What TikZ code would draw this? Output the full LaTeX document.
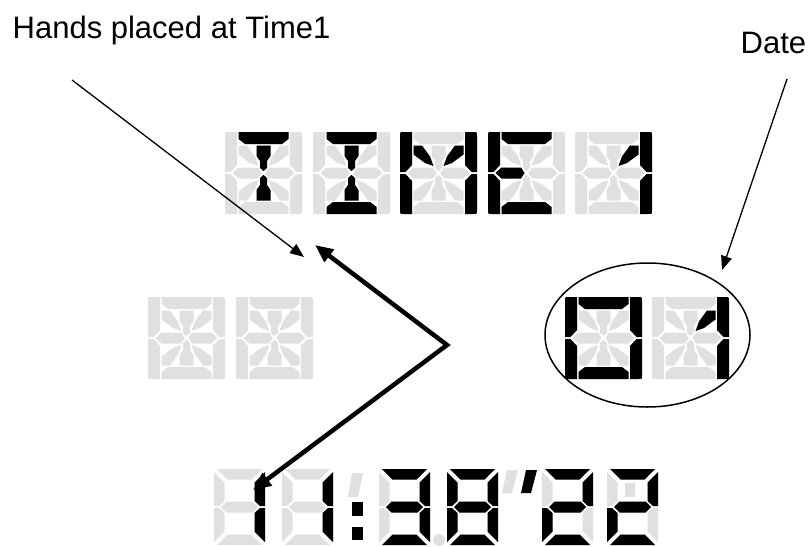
\documentclass[tikz,border=0pt]{standalone}
\usepackage{fontspec}
\setmainfont{Liberation Sans}
\usetikzlibrary{arrows.meta,shapes.geometric}
\definecolor{segoffc}{HTML}{E0E0E0}
% 14-segment digit (77 x 82)
\newcommand\sgA{(13.5,0)--(63.5,0)--(63.5,7)--(57,12)--(20,12)--(13.5,7)--cycle}
\newcommand\sgD{(13.5,82)--(63.5,82)--(63.5,75)--(57,70)--(20,70)--(13.5,75)--cycle}
\newcommand\sgF{(0,40)--(0,4) .. controls (0,0) .. (4,0)--(12,0)--(12,33)--(5.5,40)--cycle}
\newcommand\sgE{(0,42)--(5.5,42)--(12,49)--(12,82)--(4,82) .. controls (0,82) .. (0,78)--cycle}
\newcommand\sgB{(77,40)--(77,4) .. controls (77,0) .. (73,0)--(65,0)--(65,33)--(71.5,40)--cycle}
\newcommand\sgC{(77,42)--(71.5,42)--(65,49)--(65,82)--(73,82) .. controls (77,82) .. (77,78)--cycle}
\newcommand\sgGa{(7.5,41)--(13.5,35.5)--(33,35.5)--(36.5,41)--(33,46.5)--(13.5,46.5)--cycle}
\newcommand\sgGb{(69.5,41)--(63.5,35.5)--(44,35.5)--(40.5,41)--(44,46.5)--(63.5,46.5)--cycle}
\newcommand\sgH{(13.5,13.5)--(22,13.5)--(30,24.5)--(33.5,34)--(25,31)--(13.5,22.5)--cycle}
\newcommand\sgJ{(63.5,13.5)--(55,13.5)--(47,24.5)--(43.5,34)--(52,31)--(63.5,22.5)--cycle}
\newcommand\sgK{(13.5,68.5)--(22,68.5)--(30,57.5)--(33.5,48)--(25,51)--(13.5,59.5)--cycle}
\newcommand\sgM{(63.5,68.5)--(55,68.5)--(47,57.5)--(43.5,48)--(52,51)--(63.5,59.5)--cycle}
\newcommand\sgI{(31.5,13.5)--(45.5,13.5)--(45.5,24)--(42,29)--(42,36)--(38.5,39)--(35,36)--(35,29)--(31.5,24)--cycle}
\newcommand\sgL{(31.5,68.5)--(45.5,68.5)--(45.5,58)--(42,53)--(42,46)--(38.5,43)--(35,46)--(35,53)--(31.5,58)--cycle}
\newcommand\fourteen[2]{%
  \begin{scope}[shift={#1}]
    \fill[segoff] \sgA \sgB \sgC \sgD \sgE \sgF \sgGa \sgGb \sgH \sgI \sgJ \sgK \sgL \sgM;
    \fill[segon] #2;
  \end{scope}}
% 7-segment digit (51 x 76)
\newcommand\ssA{(3,0)--(48,0)--(37.5,10.5)--(13.5,10.5)--cycle}
\newcommand\ssF{(0,3)--(10.5,13.5)--(10.5,32)--(5,37)--(0,37)--cycle}
\newcommand\ssB{(51,3)--(40.5,13.5)--(40.5,32)--(46,37)--(51,37)--cycle}
\newcommand\ssE{(0,39)--(5,39)--(10.5,44)--(10.5,62.5)--(0,73)--cycle}
\newcommand\ssC{(51,39)--(46,39)--(40.5,44)--(40.5,62.5)--(51,73)--cycle}
\newcommand\ssD{(3,76)--(48,76)--(37.5,65.5)--(13.5,65.5)--cycle}
\newcommand\ssG{(7,38)--(12.5,32.5)--(38.5,32.5)--(44,38)--(38.5,43.5)--(12.5,43.5)--cycle}
\newcommand\seven[2]{%
  \begin{scope}[shift={#1}]
    \fill[segoff] \ssA \ssB \ssC \ssD \ssE \ssF \ssG;
    \fill[segon] #2;
  \end{scope}}
\begin{document}
\begin{tikzpicture}[x=1pt,y=-1pt,
  segoff/.style={fill=segoffc},
  segon/.style={fill=black},
  label text/.style={font=\fontsize{31}{36}\selectfont, inner sep=0pt, anchor=base west},
  thin arrow/.style={line width=1.3pt, -{Triangle[length=14pt,width=11pt]}},
  thick arrows/.style={line width=4.5pt, {Triangle[length=18pt,width=15pt]}-{Triangle[length=18pt,width=15pt]}}]
\useasboundingbox (0,0) rectangle (810,546);
% texts
\node[label text] (hands) at (12.5,38) {Hands placed at Time1};
\node[label text] (date) at (740.5,53) {Date};
% top row: TIME1
\fourteen{(225,132)}{\sgA \sgI \sgL}
\fourteen{(313,132)}{\sgA \sgI \sgL \sgD}
\fourteen{(400,132)}{\sgF \sgE \sgB \sgC \sgH \sgJ}
\fourteen{(488,132)}{\sgA \sgF \sgE \sgGa \sgD}
\fourteen{(575,132)}{\sgJ \sgB \sgC}
% middle row
\fourteen{(148,297)}{}
\fourteen{(236,297)}{}
\fourteen{(565,297)}{\sgA \sgB \sgC \sgD \sgE \sgF}
\fourteen{(652,297)}{\sgJ \sgB \sgC}
% date ring
\node[ellipse, draw, line width=1.5pt, minimum width=205pt, minimum height=144pt, inner sep=0pt] (ring) at (647.5,335) {};
% bottom row: 11:38''22
\seven{(214,469)}{\ssB \ssC}
\seven{(282,469)}{\ssB \ssC}
\fill[segoff] (352,473)--(363,473)--(358,497)--(348,497)--cycle;
\fill[segon] (352,502) rectangle (363,516);
\fill[segon] (352,527) rectangle (363,540);
\seven{(379,469)}{\ssA \ssB \ssG \ssC \ssD}
\fill[segoff] (439,540) circle[radius=6];
\seven{(447,469)}{\ssA \ssB \ssC \ssD \ssE \ssF \ssG}
\fill[segoff] (507,470)--(518,470)--(512,493)--(502,493)--cycle;
\fill[segon] (526,470)--(537,470)--(531,493)--(521,493)--cycle;
\seven{(542,469)}{\ssA \ssB \ssG \ssE \ssD}
\seven{(607,469)}{\ssA \ssB \ssG \ssE \ssD}
\fill[segoff] (625,483) rectangle (635,497);
% connectors
\coordinate (handsStart) at (72,80);
\coordinate (handsTip) at (304,257);
\coordinate (upTip) at (315,245);
\coordinate (apex) at (447,345);
\coordinate (lowTip) at (253,490);
\coordinate (dateStart) at (787,79);
\coordinate (dateTip) at (722,270);
\draw[thin arrow] (handsStart) -- (handsTip);
\draw[thick arrows] (upTip) -- (apex) -- (lowTip);
\draw[thin arrow] (dateStart) -- (dateTip);
\end{tikzpicture}
\end{document}
